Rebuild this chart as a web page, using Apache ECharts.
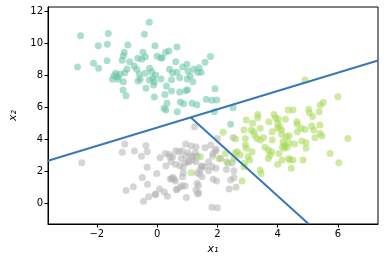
<!DOCTYPE html>
<html>
<head>
<meta charset="utf-8">
<script src="https://cdn.jsdelivr.net/npm/echarts@6/dist/echarts.min.js"></script>
<style>html,body{margin:0;padding:0;background:#fff;}#c{width:384px;height:264px;}</style>
</head>
<body>
<div id="c"></div>
<script>
var xTicks = [-2, 0, 2, 4, 6];
var yTicks = [0, 2, 4, 6, 8, 10, 12];

var class0 = [
[-0.26,11.31],[-2.54,10.48],[-1.62,10.62],[-0.42,10.56],[-1.95,9.85],[-1.65,9.94],[-0.97,9.89],[-0.07,9.85],
[-1.09,9.44],[-0.47,9.44],[0.0,9.2],[-1.12,9.22],[-0.64,9.06],[-0.51,9.0],[-0.39,9.16],[-1.16,8.94],
[-0.91,8.85],[-2.11,8.75],[-1.66,8.91],[-2.64,8.52],[-1.94,8.44],[-0.76,8.58],[-0.68,8.38],[-1.0,8.39],
[-0.25,8.44],[-1.07,8.16],[-0.39,8.13],[-0.59,8.06],[-0.18,8.23],[-1.37,8.13],[-1.43,7.98],[-1.32,7.91],
[-1.23,8.06],[-1.48,7.75],[-1.29,7.75],[-1.12,7.6],[-0.56,7.77],[-0.63,7.64],[-0.26,7.71],[-0.14,7.81],
[-0.09,7.6],[-0.12,7.39],[-0.37,7.19],[-1.13,7.08],[-1.03,6.73],[-0.09,6.64],
[0.66,9.77],[0.17,9.1],[0.28,9.44],[0.39,9.52],[0.12,9.08],[1.77,9.18],[1.59,8.81],[0.62,8.85],
[0.99,8.69],[0.85,8.52],[1.21,8.38],[1.39,8.48],[1.46,8.19],[1.35,8.19],[0.41,8.38],[0.51,8.16],
[0.66,8.19],[1.02,8.27],[-0.05,8.02],[0.13,7.77],[0.48,7.73],[0.75,7.85],[1.0,7.77],[1.1,7.96],
[1.19,7.6],[0.31,7.33],[0.48,7.02],[0.75,6.96],[0.95,7.04],[1.01,7.1],[1.92,7.16],[0.26,6.81],
[0.33,6.25],[0.23,5.94],[0.77,6.33],[0.88,6.23],[1.16,6.25],[1.32,6.16],[1.63,6.5],[1.82,6.44],
[1.98,6.46],[0.67,5.73],[1.9,5.73],[2.52,5.98],[2.44,4.94],[0.29,5.83]
];

var class1 = [
[-2.5,2.54],[-1.07,3.71],[-1.16,3.19],[-0.75,3.27],[-0.37,3.62],[-0.33,3.23],[-0.52,2.94],[0.1,2.85],
[0.28,3.12],[0.4,3.06],[0.44,2.88],[0.29,2.33],[-0.33,2.25],[-0.01,1.87],[-0.49,1.62],[-0.32,1.19],
[0.44,1.52],[0.53,1.62],[-1.03,0.81],[-0.79,1.04],[0.08,0.89],[-0.06,0.56],[-0.05,0.57],[0.24,0.71],
[0.34,0.44],[-0.28,0.41],[-0.45,0.13],
[0.62,3.29],[0.52,2.91],[0.46,2.6],[0.61,2.44],[0.76,2.35],[0.95,2.54],[1.03,2.6],[1.19,2.71],
[1.33,2.96],[1.13,2.96],[0.86,2.25],[0.84,1.66],[0.87,1.91],[0.48,1.56],[0.61,1.39],[0.64,0.87],
[0.76,1.0],[0.84,1.1],[0.93,1.08],[0.97,0.37],[1.35,0.58],[1.37,1.12],[1.33,1.25],[1.41,1.83],
[1.47,2.29],
[1.24,4.79],[2.0,4.06],[2.52,4.12],[0.95,3.71],[1.13,3.58],[1.29,3.54],[1.59,3.48],[1.78,3.64],
[1.95,3.38],[1.86,3.12],[0.83,3.29],[0.72,3.23],[1.02,3.17],[1.27,3.17],[0.95,2.98],[1.19,2.91],
[0.8,2.81],[1.06,2.6],[1.29,2.6],[1.71,2.6],[1.49,2.33],[1.59,2.29],[1.82,2.29],[2.3,2.12],
[2.55,2.04],[2.31,2.6],[2.49,2.54],[1.33,1.91],[1.71,2.04],[1.44,2.12],[0.56,1.5],[0.66,0.86],
[1.49,1.66],[1.86,1.5],[1.97,1.39],[2.44,1.46],[2.55,1.6],[2.39,0.89],[2.62,1.0],[1.38,0.66],
[1.29,0.83],[1.82,-0.25],[2.0,-0.27],[1.95,3.27],[2.11,2.81],[1.84,2.96],[1.95,2.19]
];

var class2 = [
[3.34,5.56],[3.34,5.35],[3.88,5.56],[3.93,5.35],[2.96,5.21],[3.17,5.0],[3.71,5.1],[4.0,5.0],
[4.07,4.79],[4.0,4.69],[4.13,4.58],[4.35,5.83],[3.42,4.69],[2.88,4.58],[3.12,4.58],[3.2,4.48],
[2.19,4.44],[2.6,4.02],[2.93,4.06],[3.24,4.27],[3.31,4.06],[3.42,3.96],[3.53,4.12],[3.82,4.48],
[3.82,3.96],[4.13,4.31],[4.29,4.16],[4.18,3.85],[4.37,3.79],[2.93,3.64],[2.96,3.44],[3.15,3.23],
[3.58,3.5],[3.69,3.33],[3.8,3.23],[3.75,3.02],[3.69,2.81],[4.04,3.12],[4.16,3.54],[4.24,3.64],
[4.4,2.71],[2.66,3.23],[2.76,3.02],[2.55,2.81],[2.06,2.81],[2.27,3.12],[3.02,2.91],[3.07,2.71],
[2.88,2.29],[4.0,2.44],[3.42,2.08],[3.45,1.87],[2.82,1.39],[1.13,1.91],[1.44,2.91],[2.6,3.17],
[2.36,2.5],[2.9,2.5],
[4.91,7.71],[6.0,6.66],[5.51,6.31],[5.41,6.14],[5.03,5.88],[5.05,5.66],[5.38,5.73],[4.51,5.83],
[5.16,5.42],[4.26,5.25],[4.64,5.1],[4.65,4.94],[5.13,4.83],[5.2,4.58],[5.4,4.89],[4.91,4.62],
[4.65,4.48],[4.78,4.69],[5.41,4.37],[5.47,4.21],[5.24,4.1],[6.33,4.06],[4.38,4.23],[4.8,3.89],
[4.94,3.79],[4.94,3.44],[4.56,3.71],[4.32,3.5],[4.22,3.44],[5.74,3.12],[6.03,2.54],[4.37,2.81],
[4.51,2.71],[4.84,2.71],[4.15,2.71],[4.45,2.19],[4.02,5.27]
];

var boundaryA = [[-3.62, 2.66], [7.33, 8.93]];
var boundaryB = [[1.12, 5.36], [5.03, -1.29]];

var chart = echarts.init(document.getElementById('c'), null, {renderer: 'canvas'});
var FONT = 'DejaVu Sans';
function scatter(data, color) {
  return {
    type: 'scatter', data: data, symbol: 'circle', symbolSize: 7,
    itemStyle: {color: color, opacity: 0.55}, silent: true, z: 2
  };
}
function line(data) {
  return {
    type: 'line', data: data, symbol: 'none', clip: true,
    lineStyle: {color: '#3778b8', width: 2}, silent: true, z: 3
  };
}
chart.setOption({
  animation: false,
  backgroundColor: '#fff',
  grid: {left: 43, top: 7, right: 6, bottom: 40, show: true, borderColor: '#000', borderWidth: 1, backgroundColor: 'transparent'},
  xAxis: {
    type: 'value', min: -3.62, max: 7.33,
    name: 'x\u2081', nameLocation: 'middle', nameGap: 20,
    nameTextStyle: {fontFamily: FONT, fontSize: 11, fontStyle: 'italic', color: '#000'},
    axisLine: {show: true, onZero: false, lineStyle: {color: '#000', width: 1}},
    axisTick: {show: true, length: 3.5, lineStyle: {color: '#000'}, customValues: xTicks},
    axisLabel: {show: true, fontFamily: FONT, fontSize: 10, color: '#000', margin: 5, customValues: xTicks,
      formatter: function (v) { return v < 0 ? '\u2212' + Math.abs(v) : String(v); }},
    splitLine: {show: false}
  },
  yAxis: {
    type: 'value', min: -1.29, max: 12.27,
    name: 'x\u2082', nameLocation: 'middle', nameGap: 29, nameRotate: 90,
    nameTextStyle: {fontFamily: FONT, fontSize: 11, fontStyle: 'italic', color: '#000'},
    axisLine: {show: true, onZero: false, lineStyle: {color: '#000', width: 1}},
    axisTick: {show: true, length: 3.5, lineStyle: {color: '#000'}, customValues: yTicks},
    axisLabel: {show: true, fontFamily: FONT, fontSize: 10, color: '#000', margin: 5, customValues: yTicks},
    splitLine: {show: false}
  },
  series: [
    scatter(class0, '#66c2a5'),
    scatter(class1, '#b3b3b3'),
    scatter(class2, '#a6d854'),
    line(boundaryA),
    line(boundaryB)
  ]
});
</script>
</body>
</html>
